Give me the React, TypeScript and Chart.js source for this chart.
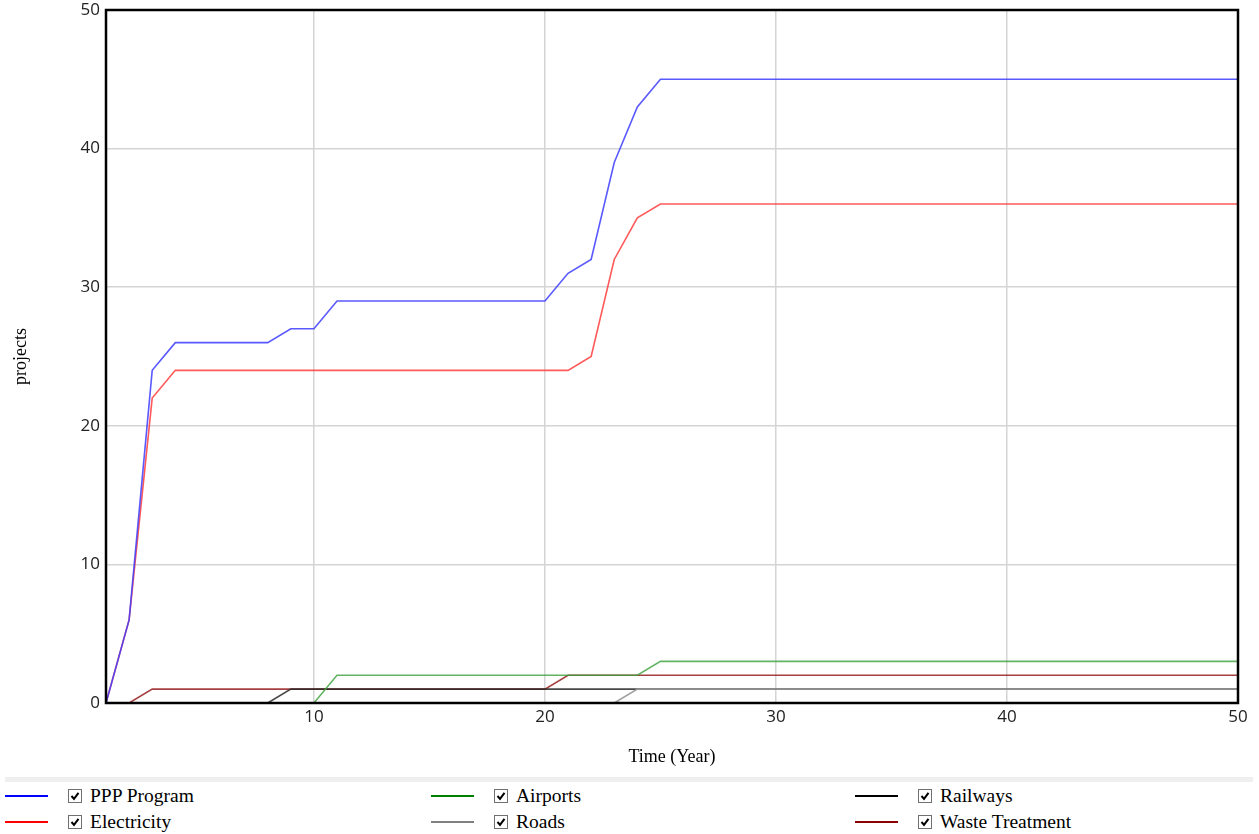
import React, { useEffect, useRef } from "react";
import { Chart, registerables } from "chart.js";

Chart.register(...registerables);

const years = [1,2,3,4,5,6,7,8,9,10,11,12,13,14,15,16,17,18,19,20,21,22,23,24,25,26,27,28,29,30,31,32,33,34,35,36,37,38,39,40,41,42,43,44,45,46,47,48,49,50];
const pppProgram = [0,6,24,26,26,26,26,26,27,27,29,29,29,29,29,29,29,29,29,29,31,32,39,43,45,45,45,45,45,45,45,45,45,45,45,45,45,45,45,45,45,45,45,45,45,45,45,45,45,45];
const electricity = [0,6,22,24,24,24,24,24,24,24,24,24,24,24,24,24,24,24,24,24,24,25,32,35,36,36,36,36,36,36,36,36,36,36,36,36,36,36,36,36,36,36,36,36,36,36,36,36,36,36];
const airports = [0,0,0,0,0,0,0,0,0,0,2,2,2,2,2,2,2,2,2,2,2,2,2,2,3,3,3,3,3,3,3,3,3,3,3,3,3,3,3,3,3,3,3,3,3,3,3,3,3,3];
const roads = [0,0,0,0,0,0,0,0,0,0,0,0,0,0,0,0,0,0,0,0,0,0,0,1,1,1,1,1,1,1,1,1,1,1,1,1,1,1,1,1,1,1,1,1,1,1,1,1,1,1];
const railways = [0,0,0,0,0,0,0,0,1,1,1,1,1,1,1,1,1,1,1,1,1,1,1,1,1,1,1,1,1,1,1,1,1,1,1,1,1,1,1,1,1,1,1,1,1,1,1,1,1,1];
const wasteTreatment = [0,0,1,1,1,1,1,1,1,1,1,1,1,1,1,1,1,1,1,1,2,2,2,2,2,2,2,2,2,2,2,2,2,2,2,2,2,2,2,2,2,2,2,2,2,2,2,2,2,2];

const xTicks = [10, 20, 30, 40, 50];
const yTicks = [0, 10, 20, 30, 40, 50];

const seriesDefs = [
  { name: "PPP Program", data: pppProgram, color: "rgba(60,60,255,0.85)", legend: "#0000ff" },
  { name: "Electricity", data: electricity, color: "rgba(255,60,60,0.85)", legend: "#ff0000" },
  { name: "Airports", data: airports, color: "rgba(60,160,60,0.8)", legend: "#008000" },
  { name: "Roads", data: roads, color: "rgba(150,150,150,0.9)", legend: "#808080" },
  { name: "Railways", data: railways, color: "rgba(40,40,40,0.85)", legend: "#000000" },
  { name: "Waste Treatment", data: wasteTreatment, color: "rgba(150,30,30,0.85)", legend: "#8b0000" },
];

const legendOrder = [
  [0, 2, 4],
  [1, 3, 5],
];
const legendColX = [5, 431, 855];

const borderPlugin = {
  id: "plotBorder",
  afterDraw(chart: any) {
    const { ctx, chartArea } = chart;
    ctx.save();
    ctx.strokeStyle = "#000";
    ctx.lineWidth = 2.5;
    ctx.strokeRect(chartArea.left, chartArea.top, chartArea.right - chartArea.left, chartArea.bottom - chartArea.top);
    ctx.restore();
  },
};

function CheckBox() {
  return (
    <svg width={14} height={14} style={{ marginLeft: 20, display: "block" }}>
      <rect x={0.5} y={0.5} width={13} height={13} fill="#fff" stroke="#707070" strokeWidth={1} />
      <path d="M3.5 7 L6 9.8 L10.5 3.8" fill="none" stroke="#000" strokeWidth={2} />
    </svg>
  );
}

function LegendItem({ idx, x, y }: { idx: number; x: number; y: number }) {
  const s = seriesDefs[idx];
  return (
    <div style={{ position: "absolute", left: x, top: y, height: 24, display: "flex", alignItems: "center" }}>
      <div style={{ width: 43, height: 2, background: s.legend }} />
      <CheckBox />
      <span style={{ marginLeft: 8, fontFamily: "'Liberation Serif', 'Times New Roman', serif", fontSize: 19.5, color: "#000", whiteSpace: "nowrap" }}>
        {s.name}
      </span>
    </div>
  );
}

export default function App() {
  const canvasRef = useRef<HTMLCanvasElement | null>(null);

  useEffect(() => {
    const canvas = canvasRef.current;
    if (!canvas) return;
    const chart = new Chart(canvas, {
      type: "line",
      data: {
        labels: years,
        datasets: seriesDefs.map((s) => ({
          label: s.name,
          data: s.data.map((v, i) => ({ x: years[i], y: v })),
          borderColor: s.color,
          backgroundColor: s.color,
          borderWidth: 1.6,
          pointRadius: 0,
          tension: 0,
          fill: false,
        })),
      },
      options: {
        animation: false,
        responsive: false,
        devicePixelRatio: 1,
        layout: { padding: { top: 10, right: 21, left: 0, bottom: 0 } },
        plugins: { legend: { display: false }, tooltip: { enabled: false } },
        scales: {
          x: {
            type: "linear",
            min: 1,
            max: 50,
            afterBuildTicks: (axis: any) => {
              axis.ticks = xTicks.map((v) => ({ value: v }));
            },
            afterFit: (axis: any) => {
              axis.height = 67;
            },
            grid: { color: "#d4d4d4", lineWidth: 1.5, drawTicks: false },
            border: { display: false },
            ticks: {
              padding: 6,
              color: "#222",
              font: { family: "'Open Sans', 'Noto Sans', sans-serif", size: 17, lineHeight: 1 },
              maxRotation: 0,
            },
            title: {
              display: true,
              text: "Time (Year)",
              color: "#000",
              font: { family: "'Liberation Serif', 'Times New Roman', serif", size: 18 },
              padding: { top: 0, bottom: 2 },
            },
          },
          y: {
            type: "linear",
            min: 0,
            max: 50,
            afterBuildTicks: (axis: any) => {
              axis.ticks = yTicks.map((v) => ({ value: v }));
            },
            afterFit: (axis: any) => {
              axis.width = 106;
              axis.paddingTop = 0;
            },
            grid: { color: "#d4d4d4", lineWidth: 1.5, drawTicks: false },
            border: { display: false },
            ticks: {
              padding: 6,
              color: "#222",
              font: { family: "'Open Sans', 'Noto Sans', sans-serif", size: 17, lineHeight: 0.6 },
            },
            title: {
              display: true,
              text: "projects",
              color: "#000",
              font: { family: "'Liberation Serif', 'Times New Roman', serif", size: 18 },
              padding: { top: 10, bottom: 0 },
            },
          },
        },
      },
      plugins: [borderPlugin],
    });
    return () => chart.destroy();
  }, []);

  return (
    <div style={{ position: "absolute", left: 0, top: 0, width: 1259, height: 834, background: "#fff", overflow: "hidden" }}>
      <canvas ref={canvasRef} width={1259} height={770} style={{ display: "block", width: 1259, height: 770 }} />
      <div style={{ position: "absolute", left: 5, top: 777, width: 1248, height: 5, background: "#efefef" }} />
      {legendOrder.map((row, r) =>
        row.map((idx, c) => <LegendItem key={idx} idx={idx} x={legendColX[c]} y={784 + r * 26} />)
      )}
    </div>
  );
}
